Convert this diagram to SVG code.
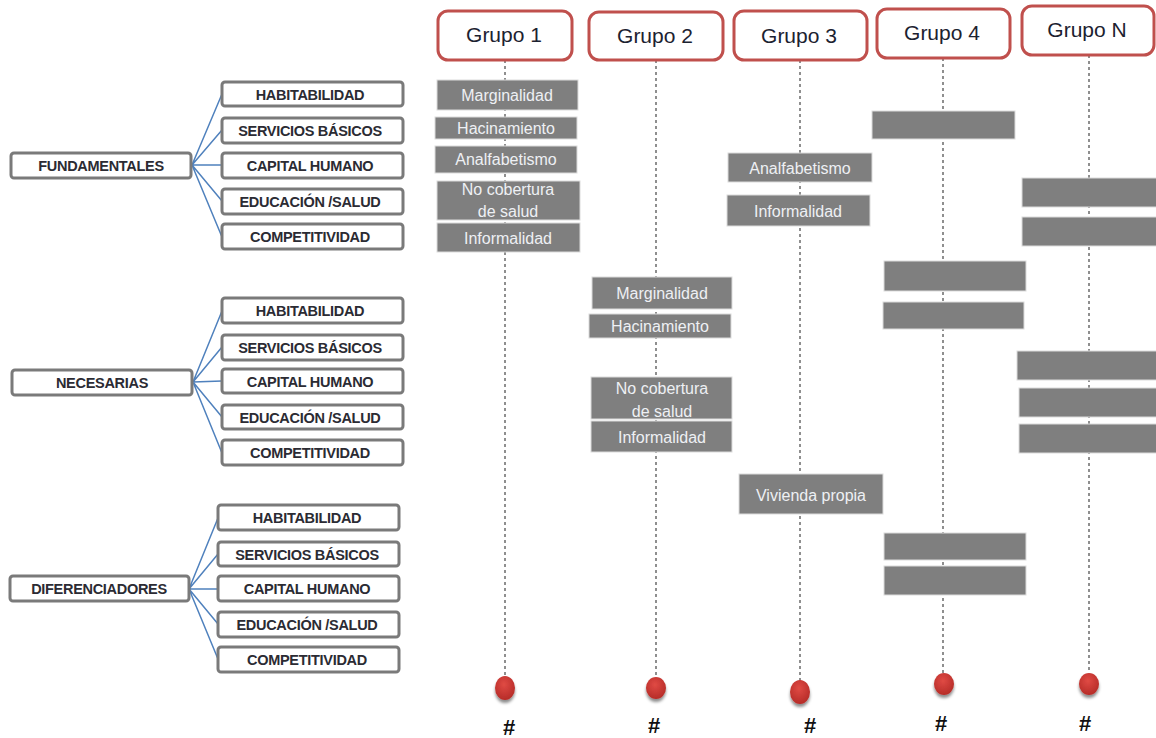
<svg xmlns="http://www.w3.org/2000/svg" width="1156" height="738" viewBox="0 0 1156 738">
<defs>
<radialGradient id="dotg" cx="0.45" cy="0.35" r="0.7">
<stop offset="0" stop-color="#e04a44"/>
<stop offset="1" stop-color="#b32a26"/>
</radialGradient>
<filter id="sh" x="-50%" y="-50%" width="200%" height="200%">
<feDropShadow dx="0" dy="3" stdDeviation="1.8" flood-color="#000" flood-opacity="0.45"/>
</filter>
</defs>
<style>
.hdr{fill:#fff;stroke:#c0504d;stroke-width:3}
.ht{font-family:"Liberation Sans",Arial,sans-serif;font-size:21px;fill:#1c2230;text-anchor:middle}
.lb{fill:#fff;stroke:#7a7a7a;stroke-width:3}
.lt{font-family:"Liberation Sans",Arial,sans-serif;font-size:14.5px;font-weight:bold;fill:#2b2b33;text-anchor:middle;letter-spacing:-0.3px}
.gb{fill:#7f7f7f;stroke:#dcdcdc;stroke-width:1}
.gt{font-family:"Liberation Sans",Arial,sans-serif;font-size:16px;fill:#eef0f4;text-anchor:middle}
.dash{stroke:#8f8f8f;stroke-width:2;stroke-dasharray:3 3;fill:none}
.con{stroke:#4f81bd;stroke-width:1.5;fill:none}
.hash{font-family:"Liberation Sans",Arial,sans-serif;font-size:22px;font-weight:bold;fill:#111;text-anchor:middle}
.dot{fill:url(#dotg)}
</style>
<rect width="1156" height="738" fill="#fff"/>

<g id="connectors">
<g id="timelines">
<line class="dash" x1="505" y1="60" x2="505" y2="677"/>
<line class="dash" x1="656" y1="60" x2="656" y2="677"/>
<line class="dash" x1="800" y1="60" x2="800" y2="681"/>
<line class="dash" x1="943" y1="58" x2="943" y2="673"/>
<line class="dash" x1="1089" y1="55" x2="1089" y2="673"/>
</g>
<g id="tree-lines">
<path class="con" d="M192,165 L222,94 M192,165 L222,130 M192,165 L222,165 M192,165 L222,201 M192,165 L222,237"/>
<path class="con" d="M193,382 L222,311 M193,382 L222,347 M193,382 L222,381 M193,382 L222,417 M193,382 L222,453"/>
<path class="con" d="M189,589 L218,518 M189,589 L218,554 M189,589 L218,589 M189,589 L218,624 M189,589 L218,659"/>
</g>
</g>

<g id="headers">
<g id="grupo1"><rect class="hdr" x="438" y="11" width="134" height="49" rx="10"/><text class="ht" x="504" y="42">Grupo 1</text></g>
<g id="grupo2"><rect class="hdr" x="589" y="12" width="134" height="48" rx="10"/><text class="ht" x="655" y="43">Grupo 2</text></g>
<g id="grupo3"><rect class="hdr" x="734" y="11" width="133" height="49" rx="10"/><text class="ht" x="799" y="43">Grupo 3</text></g>
<g id="grupo4"><rect class="hdr" x="877" y="9" width="133" height="49" rx="10"/><text class="ht" x="942" y="40">Grupo 4</text></g>
<g id="grupoN"><rect class="hdr" x="1022" y="6" width="132" height="49" rx="10"/><text class="ht" x="1087" y="37">Grupo N</text></g>
</g>

<g id="left-fundamentales">
<g id="fundamentales"><rect class="lb" x="11" y="153" width="180" height="25" rx="3"/><text class="lt" x="101" y="171">FUNDAMENTALES</text></g>
<g id="f-habitabilidad"><rect class="lb" x="222" y="82" width="181" height="24" rx="3"/><text class="lt" x="310" y="99.5">HABITABILIDAD</text></g>
<g id="f-servicios"><rect class="lb" x="222" y="118" width="181" height="25" rx="3"/><text class="lt" x="310" y="136">SERVICIOS BÁSICOS</text></g>
<g id="f-capital"><rect class="lb" x="222" y="153" width="181" height="25" rx="3"/><text class="lt" x="310" y="171">CAPITAL HUMANO</text></g>
<g id="f-educacion"><rect class="lb" x="222" y="189" width="181" height="25" rx="3"/><text class="lt" x="310" y="207">EDUCACIÓN /SALUD</text></g>
<g id="f-competitividad"><rect class="lb" x="222" y="224" width="181" height="25" rx="3"/><text class="lt" x="310" y="242">COMPETITIVIDAD</text></g>
</g>

<g id="left-necesarias">
<g id="necesarias"><rect class="lb" x="12" y="370" width="180" height="25" rx="3"/><text class="lt" x="102" y="388">NECESARIAS</text></g>
<g id="n-habitabilidad"><rect class="lb" x="222" y="298" width="181" height="25" rx="3"/><text class="lt" x="310" y="316">HABITABILIDAD</text></g>
<g id="n-servicios"><rect class="lb" x="222" y="335" width="181" height="25" rx="3"/><text class="lt" x="310" y="353">SERVICIOS BÁSICOS</text></g>
<g id="n-capital"><rect class="lb" x="222" y="369" width="181" height="24" rx="3"/><text class="lt" x="310" y="386.5">CAPITAL HUMANO</text></g>
<g id="n-educacion"><rect class="lb" x="222" y="405" width="181" height="24" rx="3"/><text class="lt" x="310" y="422.5">EDUCACIÓN /SALUD</text></g>
<g id="n-competitividad"><rect class="lb" x="222" y="440" width="181" height="25" rx="3"/><text class="lt" x="310" y="458">COMPETITIVIDAD</text></g>
</g>

<g id="left-diferenciadores">
<g id="diferenciadores"><rect class="lb" x="10" y="576" width="179" height="25" rx="3"/><text class="lt" x="99" y="594">DIFERENCIADORES</text></g>
<g id="d-habitabilidad"><rect class="lb" x="218" y="505" width="181" height="25" rx="3"/><text class="lt" x="307" y="523">HABITABILIDAD</text></g>
<g id="d-servicios"><rect class="lb" x="218" y="542" width="181" height="24" rx="3"/><text class="lt" x="307" y="559.5">SERVICIOS BÁSICOS</text></g>
<g id="d-capital"><rect class="lb" x="218" y="576" width="181" height="25" rx="3"/><text class="lt" x="307" y="594">CAPITAL HUMANO</text></g>
<g id="d-educacion"><rect class="lb" x="218" y="612" width="181" height="25" rx="3"/><text class="lt" x="307" y="630">EDUCACIÓN /SALUD</text></g>
<g id="d-competitividad"><rect class="lb" x="218" y="647" width="181" height="25" rx="3"/><text class="lt" x="307" y="665">COMPETITIVIDAD</text></g>
</g>

<g id="col-grupo1">
<g id="g1-marginalidad"><rect class="gb" x="437" y="80" width="141" height="30"/><text class="gt" x="507" y="100.5">Marginalidad</text></g>
<g id="g1-hacinamiento"><rect class="gb" x="435" y="117" width="142" height="22"/><text class="gt" x="506" y="133.5">Hacinamiento</text></g>
<g id="g1-analfabetismo"><rect class="gb" x="435" y="146" width="142" height="27"/><text class="gt" x="506" y="164.5">Analfabetismo</text></g>
<g id="g1-nocobertura"><rect class="gb" x="437" y="181" width="143" height="39"/><text class="gt" x="508" y="195">No cobertura</text><text class="gt" x="508" y="216.5">de salud</text></g>
<g id="g1-informalidad"><rect class="gb" x="437" y="223" width="143" height="29"/><text class="gt" x="508" y="243.5">Informalidad</text></g>
</g>

<g id="col-grupo2">
<g id="g2-marginalidad"><rect class="gb" x="592" y="277" width="140" height="32"/><text class="gt" x="662" y="298.5">Marginalidad</text></g>
<g id="g2-hacinamiento"><rect class="gb" x="589" y="314" width="142" height="24"/><text class="gt" x="660" y="331.5">Hacinamiento</text></g>
<g id="g2-nocobertura"><rect class="gb" x="591" y="377" width="141" height="42"/><text class="gt" x="662" y="394">No cobertura</text><text class="gt" x="662" y="416.5">de salud</text></g>
<g id="g2-informalidad"><rect class="gb" x="591" y="421" width="141" height="31"/><text class="gt" x="662" y="442.5">Informalidad</text></g>
</g>

<g id="col-grupo3">
<g id="g3-analfabetismo"><rect class="gb" x="728" y="153" width="144" height="29"/><text class="gt" x="800" y="173.5">Analfabetismo</text></g>
<g id="g3-informalidad"><rect class="gb" x="727" y="195" width="143" height="31"/><text class="gt" x="798" y="216.5">Informalidad</text></g>
<g id="g3-vivienda"><rect class="gb" x="739" y="474" width="144" height="40"/><text class="gt" x="811" y="500.5">Vivienda propia</text></g>
</g>

<g id="col-grupo4">
<rect id="g4-b1" class="gb" x="872" y="111" width="143" height="28"/>
<rect id="g4-b2" class="gb" x="884" y="261" width="142" height="30"/>
<rect id="g4-b3" class="gb" x="883" y="302" width="141" height="27"/>
<rect id="g4-b4" class="gb" x="884" y="533" width="142" height="27"/>
<rect id="g4-b5" class="gb" x="884" y="566" width="142" height="29"/>
</g>

<g id="col-grupoN">
<rect id="gN-b1" class="gb" x="1022" y="178" width="140" height="29"/>
<rect id="gN-b2" class="gb" x="1022" y="217" width="140" height="29"/>
<rect id="gN-b3" class="gb" x="1017" y="351" width="145" height="29"/>
<rect id="gN-b4" class="gb" x="1019" y="388" width="143" height="29"/>
<rect id="gN-b5" class="gb" x="1019" y="424" width="143" height="29"/>
</g>

<g id="endpoints">
<g id="end1"><ellipse class="dot" cx="505" cy="688" rx="10" ry="12" filter="url(#sh)"/><text class="hash" x="509" y="735">#</text></g>
<g id="end2"><ellipse class="dot" cx="656" cy="688" rx="10" ry="11" filter="url(#sh)"/><text class="hash" x="654" y="733">#</text></g>
<g id="end3"><ellipse class="dot" cx="800" cy="692" rx="10" ry="12" filter="url(#sh)"/><text class="hash" x="810" y="733">#</text></g>
<g id="end4"><ellipse class="dot" cx="944" cy="684" rx="10" ry="11" filter="url(#sh)"/><text class="hash" x="941" y="731">#</text></g>
<g id="end5"><ellipse class="dot" cx="1089" cy="684" rx="10" ry="11" filter="url(#sh)"/><text class="hash" x="1085" y="731">#</text></g>
</g>
</svg>
